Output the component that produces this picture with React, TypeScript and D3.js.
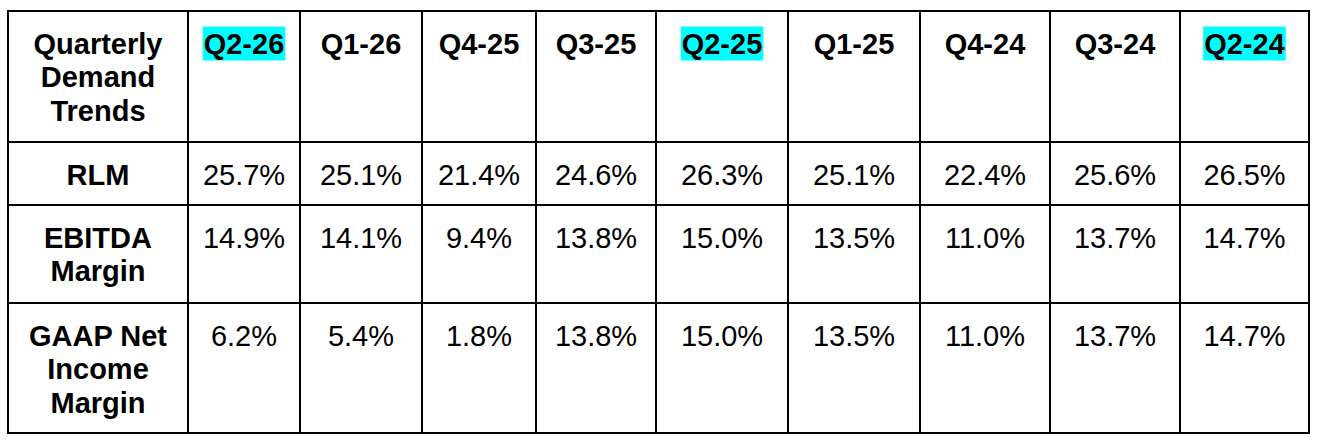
import React from "react";
import * as d3 from "d3";

const cornerLabel = ["Quarterly", "Demand", "Trends"];
const quarters = ["Q2-26", "Q1-26", "Q4-25", "Q3-25", "Q2-25", "Q1-25", "Q4-24", "Q3-24", "Q2-24"];
const highlighted = ["Q2-26", "Q2-25", "Q2-24"];
const metricLabels = [["RLM"], ["EBITDA", "Margin"], ["GAAP Net", "Income", "Margin"]];
const rlm = ["25.7%", "25.1%", "21.4%", "24.6%", "26.3%", "25.1%", "22.4%", "25.6%", "26.5%"];
const ebitdaMargin = ["14.9%", "14.1%", "9.4%", "13.8%", "15.0%", "13.5%", "11.0%", "13.7%", "14.7%"];
const gaapNetIncomeMargin = ["6.2%", "5.4%", "1.8%", "13.8%", "15.0%", "13.5%", "11.0%", "13.7%", "14.7%"];
const rows = [rlm, ebitdaMargin, gaapNetIncomeMargin];

// layout
const W = 1320;
const H = 444;
const X0 = 8;
const Y0 = 11;
const colWidths = [180, 112, 122, 114, 120, 132, 132, 130, 130, 129];
const rowHeights = [131, 63, 98, 130];
const FONT = "'Liberation Sans', Arial, Helvetica, sans-serif";
const FS = 29;
const LH = 33.7;
const BASE = 42.5;

const colEdges = [X0, ...d3.cumsum(colWidths).map((v) => X0 + v)];
const rowEdges = [Y0, ...d3.cumsum(rowHeights).map((v) => Y0 + v)];

function measure(text: string, bold: boolean): number {
  const c = document.createElement("canvas");
  const ctx = c.getContext("2d");
  if (!ctx) return text.length * FS * 0.55;
  ctx.font = `${bold ? "bold " : ""}${FS}px ${FONT}`;
  return ctx.measureText(text).width;
}

function Cell({ lines, col, row, bold, highlight }: { lines: string[]; col: number; row: number; bold: boolean; highlight?: boolean }) {
  const cx = (colEdges[col] + colEdges[col + 1]) / 2;
  const top = rowEdges[row];
  return (
    <g>
      {highlight &&
        lines.map((l, i) => {
          const w = measure(l, bold);
          const b = top + BASE + i * LH;
          return <rect key={"h" + i} x={cx - w / 2 - 1} y={b - 27} width={w + 2} height={34} fill="#00ffff" />;
        })}
      <text
        x={cx}
        textAnchor="middle"
        fontFamily={FONT}
        fontSize={FS}
        fontWeight={bold ? "bold" : "normal"}
        fill="#000"
      >
        {lines.map((l, i) => (
          <tspan key={i} x={cx} y={top + BASE + i * LH}>
            {l}
          </tspan>
        ))}
      </text>
    </g>
  );
}

export default function App() {
  return (
    <svg width={W} height={H} style={{ position: "absolute", left: 0, top: 0, background: "#fff" }}>
      <rect x={0} y={0} width={W} height={H} fill="#fff" />
      <Cell lines={cornerLabel} col={0} row={0} bold />
      {quarters.map((q, i) => (
        <Cell key={q} lines={[q]} col={i + 1} row={0} bold highlight={highlighted.includes(q)} />
      ))}
      {metricLabels.map((m, r) => (
        <Cell key={"m" + r} lines={m} col={0} row={r + 1} bold />
      ))}
      {rows.map((vals, r) =>
        vals.map((v, i) => <Cell key={r + "-" + i} lines={[v]} col={i + 1} row={r + 1} bold={false} />)
      )}
      {rowEdges.map((y, i) => (
        <line key={"r" + i} x1={X0 - 1} x2={colEdges[colEdges.length - 1] + 1} y1={y} y2={y} stroke="#000" strokeWidth={2} />
      ))}
      {colEdges.map((x, i) => (
        <line key={"c" + i} x1={x} x2={x} y1={Y0 - 1} y2={rowEdges[rowEdges.length - 1] + 1} stroke="#000" strokeWidth={2} />
      ))}
    </svg>
  );
}
